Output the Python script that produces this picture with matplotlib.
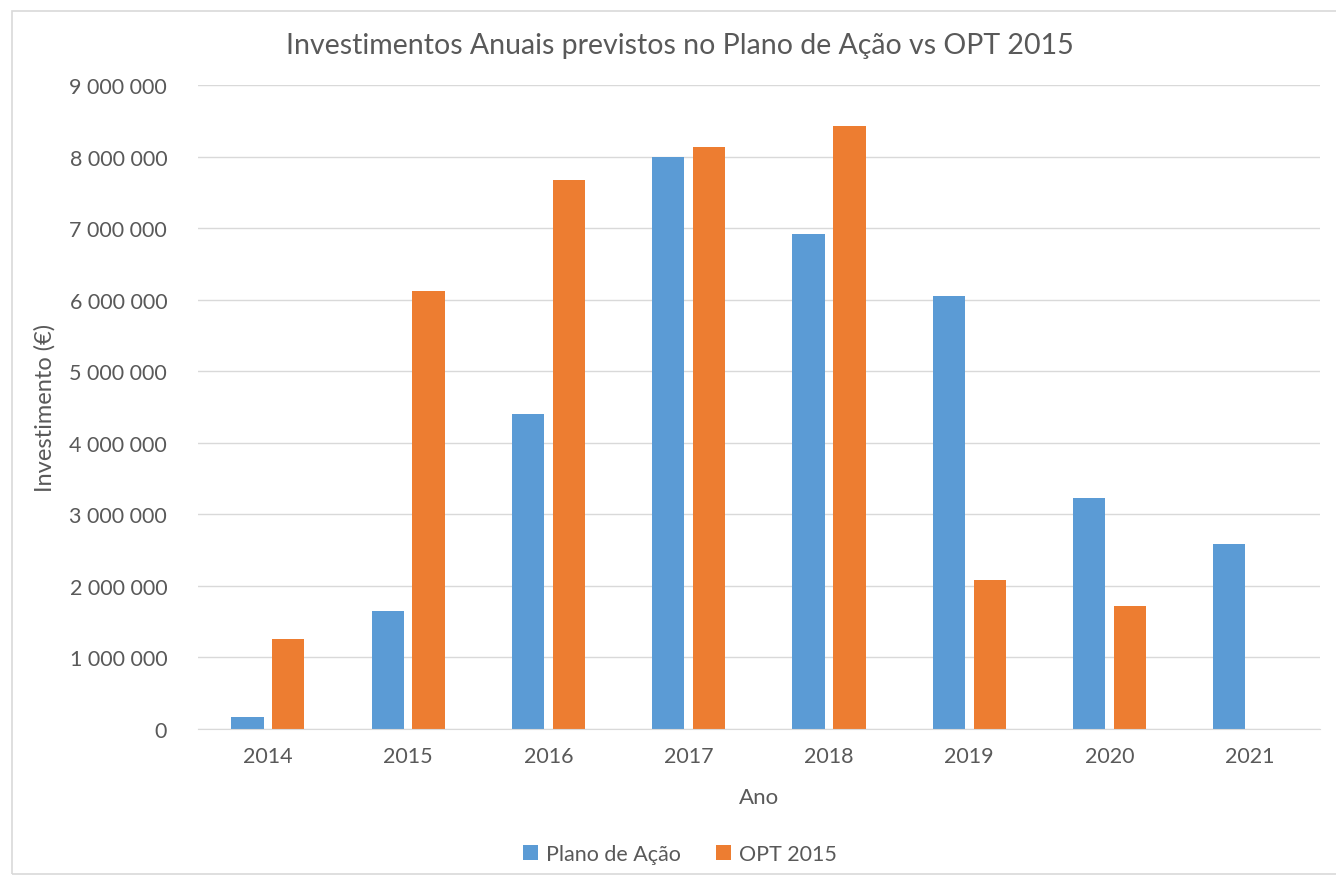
import numpy as np
import matplotlib
matplotlib.use("Agg")
import matplotlib.pyplot as plt
from matplotlib.patches import Rectangle
from matplotlib.ticker import FuncFormatter

# === Data ===
anos = ["2014", "2015", "2016", "2017", "2018", "2019", "2020", "2021"]
plano_acao = [170000, 1650000, 4400000, 7990000, 6920000, 6050000, 3230000, 2590000]
opt_2015 = [1260000, 6120000, 7670000, 8140000, 8430000, 2080000, 1720000, 0]

BLUE = "#5b9bd5"
ORANGE = "#ed7d31"
TXT = "#595959"
GRID = "#d9d9d9"

plt.rcParams["font.family"] = ["Lato", "DejaVu Sans"]

fig = plt.figure(figsize=(13.36, 8.79), dpi=100)
ax = fig.add_axes([0.148, 0.1695, 0.840, 0.7325])

# chart border
fig.patches.append(Rectangle((12 / 1336, 4 / 879), 1.0, 1 - 16 / 879,
                             transform=fig.transFigure, fill=False,
                             edgecolor=GRID, linewidth=1.2))

x = np.arange(len(anos))
w = 0.23
ax.bar(x - 0.146, plano_acao, w, color=BLUE, label="Plano de Ação", zorder=3)
ax.bar(x + 0.146, opt_2015, w, color=ORANGE, label="OPT 2015", zorder=3)

ax.set_xlim(-0.5, len(anos) - 0.5)
ax.set_ylim(0, 9000000)
ax.set_yticks(np.arange(0, 9000001, 1000000))
ax.yaxis.set_major_formatter(FuncFormatter(lambda v, p: f"{int(v):,}".replace(",", " ")))
ax.set_xticks(x)
ax.set_xticklabels(anos)

ax.grid(axis="y", color=GRID, linewidth=1, zorder=0)
for s in ["top", "right", "left"]:
    ax.spines[s].set_visible(False)
ax.spines["bottom"].set_color(GRID)
ax.spines["bottom"].set_zorder(4)
ax.tick_params(length=0, labelsize=15.5, colors=TXT, pad=12)
ax.tick_params(axis="y", pad=22)

ax.set_xlabel("Ano", fontsize=16, color=TXT, labelpad=15)
ax.set_ylabel("Investimento (€)", fontsize=17, color=TXT, labelpad=10)
fig.text(0.509, 0.948, "Investimentos Anuais previstos no Plano de Ação vs OPT 2015",
         ha="center", va="center", fontsize=20.5, color=TXT)

ax.legend(loc="center", bbox_to_anchor=(0.509, 0.027), bbox_transform=fig.transFigure,
          frameon=False, ncol=2, fontsize=15.5, labelcolor=TXT,
          handlelength=0.7, handleheight=0.7, handletextpad=0.4, columnspacing=1.6)

plt.savefig("out.png", dpi=100)
plt.close()
